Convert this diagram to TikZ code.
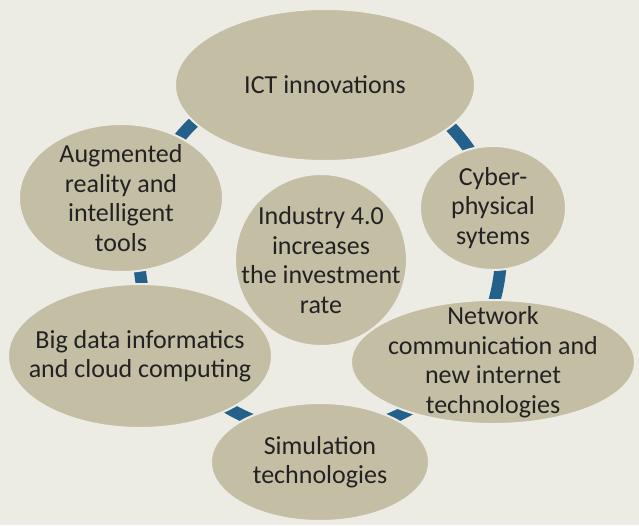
\documentclass[tikz,border=0pt]{standalone}
\usepackage{fontspec}
\setmainfont{Carlito}
\usetikzlibrary{shapes.geometric}

\definecolor{paperbg}{HTML}{ECEBE4}
\definecolor{bubblefill}{HTML}{C4BEA4}
\definecolor{ringblue}{HTML}{24618A}
\definecolor{inkdark}{HTML}{222222}

\begin{document}
\begin{tikzpicture}[x=1pt, y=-1pt,
    bubble/.style={ellipse, draw=paperbg, line width=2pt, fill=bubblefill,
        text=inkdark, align=center, inner sep=-40pt,
        font=\fontsize{26}{29.5}\selectfont}]
    % Background
    \fill[paperbg] (0,0) rectangle (639,525);

    % Ring behind the bubbles
    \coordinate (hub) at (320,252);
    \draw[ringblue, line width=12pt] (hub) circle[radius=181pt];

    % Outer bubbles
    \node[bubble, minimum width=300pt, minimum height=152pt] (ict) at (325,85) {ICT innovations};
    \node[bubble, minimum width=204pt, minimum height=148pt] (aug) at (121,198) {Augmented\\reality and\\intelligent\\tools};
    \node[bubble, minimum width=146pt, minimum height=124pt] (cps) at (493,208) {Cyber-\\physical\\sytems};
    \node[bubble, minimum width=264pt, minimum height=144pt] (bigdata) at (140,356) {Big data informatics\\and cloud computing};
    \node[bubble, minimum width=218pt, minimum height=118pt] (sim) at (320,462) {Simulation\\technologies};
    \node[bubble, minimum width=284pt, minimum height=124pt] (net) at (493,362) {Network\\communication and\\new internet\\technologies};

    % Centre bubble
    \node[bubble, minimum width=172pt, minimum height=172pt] (core) at (321,260) {Industry 4.0\\increases\\the investment\\rate};
\end{tikzpicture}
\end{document}
